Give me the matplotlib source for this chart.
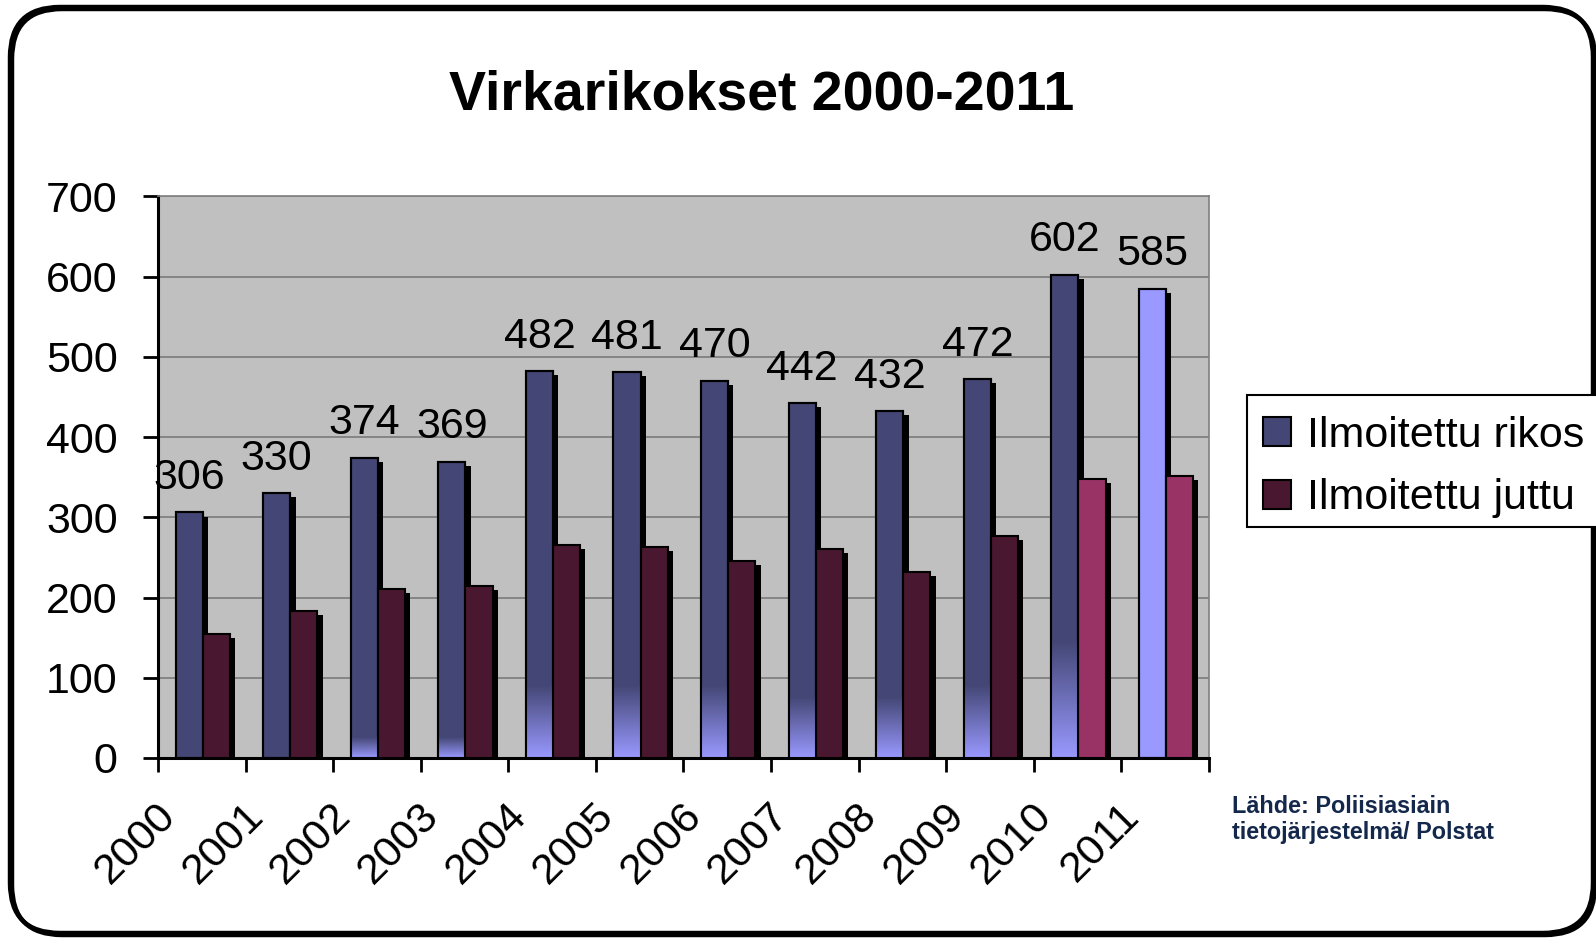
#!/usr/bin/env python3
"""Virkarikokset 2000-2011: grouped 3D-ish bar chart, Excel style."""

import numpy as np
import matplotlib
matplotlib.use("Agg")
import matplotlib.pyplot as plt
from matplotlib.patches import FancyBboxPatch, Patch, Rectangle
from matplotlib.colors import to_rgb
import matplotlib.transforms as mtransforms

years = ["2000", "2001", "2002", "2003", "2004", "2005",
         "2006", "2007", "2008", "2009", "2010", "2011"]
rikos = [306, 330, 374, 369, 482, 481, 470, 442, 432, 472, 602, 585]
juttu = [155, 183, 211, 214, 266, 263, 246, 260, 232, 277, 348, 351]

# styling
C_RIKOS = "#444775"
C_RIKOS_LIGHT = "#9999FF"
C_JUTTU = "#4A1730"
C_JUTTU_LIGHT = "#993366"
rikos_colors = [C_RIKOS] * 11 + [C_RIKOS_LIGHT]
juttu_colors = [C_JUTTU] * 10 + [C_JUTTU_LIGHT] * 2
# height (data units) of the light gradient at bar bottoms
grad_top = [0, 0, 25, 25, 90, 90, 90, 75, 75, 90, 145, 0]

plt.rcParams["font.family"] = ["Liberation Sans", "DejaVu Sans"]

fig = plt.figure(figsize=(15.96, 9.39), dpi=100)
ax = fig.add_axes([0.099, 0.1928, 0.6585, 0.598])
ax.set_facecolor("#C0C0C0")

x = np.arange(len(years))
w = 0.31
x_r = x + 0.2
x_j = x + 0.2 + w
dx, dy = 0.06, 5

# shadows
ax.bar(x_r + dx, np.array(rikos) - dy, w, align="edge", color="black", zorder=2)
ax.bar(x_j + dx, np.array(juttu) - dy, w, align="edge", color="black", zorder=2)

ax.bar(x_r, rikos, w, align="edge", color=rikos_colors, edgecolor="black",
       linewidth=1.5, zorder=3)
ax.bar(x_j, juttu, w, align="edge", color=juttu_colors, edgecolor="black",
       linewidth=1.5, zorder=3)

# bottom gradient on rikos bars
dark = np.array(to_rgb(C_RIKOS))
light = np.array(to_rgb(C_RIKOS_LIGHT))
for xi, g in zip(x_r, grad_top):
    if g <= 0:
        continue
    t = np.linspace(0, 1, 100)[:, None, None]
    img = light * (1 - t) + dark * t
    ax.imshow(img, extent=(xi, xi + w, 0, g), origin="lower", aspect="auto",
              zorder=3.5, interpolation="bilinear")
ax.bar(x_r, rikos, w, align="edge", fill=False, edgecolor="black",
       linewidth=1.5, zorder=4)

for xi, v in zip(x_r, rikos):
    ax.annotate(str(v), (xi + w / 2, v), xytext=(0, 17), textcoords="offset points",
                ha="center", va="baseline", fontsize=31, zorder=5)

ax.set_xlim(0, 12)
ax.set_ylim(0, 700)
ax.set_yticks(range(0, 701, 100))
ax.yaxis.grid(True, color="#808080", linewidth=1.3)
ax.set_axisbelow(True)

ax.set_xticks(np.arange(0, 13))
ax.set_xticklabels([])
ax.set_xticks(x + 0.5, minor=True)
ax.set_xticklabels(years, minor=True, rotation=45, ha="right", va="top",
                   rotation_mode="anchor", fontsize=31)
ax.tick_params(axis="x", which="major", length=10, width=2, direction="out")
ax.tick_params(axis="x", which="minor", length=0, pad=27)
ax.tick_params(axis="y", length=11, width=2, direction="out", pad=18, labelsize=31)
shift = mtransforms.ScaledTranslation(-46 / 100, 0, fig.dpi_scale_trans)
for lab in ax.xaxis.get_minorticklabels():
    lab.set_transform(lab.get_transform() + shift)

for s in ("left", "bottom"):
    ax.spines[s].set_linewidth(2.2)
for s in ("top", "right"):
    ax.spines[s].set_color("#808080")
    ax.spines[s].set_linewidth(1.2)

fig.text(0.4774, 0.8985, "Virkarikokset 2000-2011", ha="center", va="center",
         fontsize=40, fontweight="bold")

# legend: entries without frame, box drawn separately
handles = [Patch(facecolor=C_RIKOS, edgecolor="black", linewidth=1.5),
           Patch(facecolor=C_JUTTU, edgecolor="black", linewidth=1.5)]
leg = fig.legend(handles, ["Ilmoitettu rikos", "Ilmoitettu juttu"],
                 loc="upper left", bbox_to_anchor=(0.7914, 0.5575), fontsize=31,
                 frameon=False, handlelength=0.65, handleheight=0.65,
                 handletextpad=0.37, borderpad=0, labelspacing=0.53,
                 borderaxespad=0)
fig.patches.append(Rectangle((0.7813, 0.4388), 0.225, 0.1405,
                             transform=fig.transFigure, facecolor="white",
                             edgecolor="black", linewidth=1.5, zorder=0.5))

fig.text(0.772, 0.127, "Lähde: Poliisiasiain\ntietojärjestelmä/ Polstat",
         ha="left", va="center", fontsize=16.8, fontweight="bold",
         color="#14284B", linespacing=1.15)

# rounded outer frame with a slight shadow on the bottom/right
shadow = FancyBboxPatch((0.12, 0.04), 15.83, 9.26,
                        boxstyle="round,pad=0,rounding_size=0.5",
                        transform=fig.dpi_scale_trans, facecolor="none",
                        edgecolor="black", linewidth=3.2, zorder=0)
frame = FancyBboxPatch((0.10, 0.06), 15.83, 9.26,
                       boxstyle="round,pad=0,rounding_size=0.5",
                       transform=fig.dpi_scale_trans, facecolor="none",
                       edgecolor="black", linewidth=3.2, zorder=0)
fig.patches.append(shadow)
fig.patches.append(frame)

fig.savefig("out.png", dpi=100)
